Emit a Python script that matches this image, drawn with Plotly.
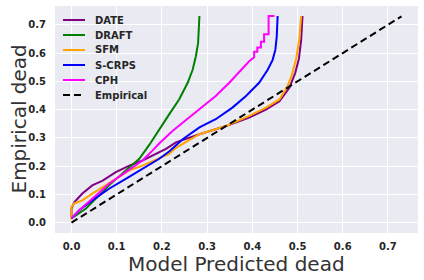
import plotly.graph_objects as go

# ---- data ----
date_x = [0.0, 0.0, 0.006, 0.024, 0.046, 0.069, 0.098, 0.128, 0.157, 0.209, 0.231, 0.283, 0.342, 0.393, 0.43, 0.46, 0.482, 0.495, 0.503, 0.508, 0.511]
date_y = [0.02, 0.05, 0.072, 0.103, 0.132, 0.149, 0.179, 0.202, 0.22, 0.261, 0.284, 0.313, 0.342, 0.372, 0.4, 0.43, 0.477, 0.53, 0.58, 0.645, 0.731]

draft_x = [0.0, 0.006, 0.032, 0.054, 0.083, 0.12, 0.15, 0.172, 0.194, 0.216, 0.238, 0.257, 0.268, 0.275, 0.28, 0.281, 0.283]
draft_y = [0.015, 0.021, 0.05, 0.085, 0.132, 0.185, 0.226, 0.275, 0.331, 0.383, 0.436, 0.495, 0.541, 0.588, 0.635, 0.68, 0.731]

sfm_x = [0.0, 0.0, 0.006, 0.024, 0.046, 0.069, 0.098, 0.128, 0.157, 0.194, 0.216, 0.231, 0.283, 0.342, 0.393, 0.43, 0.46, 0.478, 0.487, 0.497, 0.504, 0.508]
sfm_y = [0.01, 0.056, 0.068, 0.079, 0.103, 0.126, 0.155, 0.185, 0.202, 0.226, 0.243, 0.265, 0.313, 0.342, 0.378, 0.407, 0.436, 0.483, 0.52, 0.58, 0.65, 0.731]

scrps_x = [0.0, 0.017, 0.046, 0.083, 0.12, 0.157, 0.194, 0.216, 0.246, 0.283, 0.319, 0.356, 0.386, 0.415, 0.434, 0.445, 0.451, 0.454, 0.456]
scrps_y = [0.015, 0.044, 0.079, 0.12, 0.155, 0.19, 0.226, 0.252, 0.295, 0.337, 0.366, 0.407, 0.448, 0.495, 0.541, 0.576, 0.612, 0.658, 0.731]

cph_x = [0.0, 0.017, 0.046, 0.083, 0.12, 0.157, 0.179, 0.194, 0.224, 0.246, 0.283, 0.319, 0.349, 0.378, 0.393, 0.404, 0.404, 0.411, 0.411, 0.419, 0.419, 0.426, 0.426, 0.436, 0.436, 0.449]
cph_y = [0.015, 0.044, 0.085, 0.138, 0.179, 0.22, 0.255, 0.28, 0.325, 0.354, 0.401, 0.448, 0.495, 0.547, 0.571, 0.585, 0.605, 0.605, 0.62, 0.62, 0.64, 0.64, 0.667, 0.667, 0.731, 0.731]

emp_x = [0.0, 0.73]
emp_y = [0.0, 0.73]

tick_vals = [0.0, 0.1, 0.2, 0.3, 0.4, 0.5, 0.6, 0.7]
tick_text = ["0.0", "0.1", "0.2", "0.3", "0.4", "0.5", "0.6", "0.7"]

legend_names = ["DATE", "DRAFT", "SFM", "S-CRPS", "CPH", "Empirical"]
colors = ["purple", "green", "orange", "blue", "magenta", "black"]
series_x = [date_x, draft_x, sfm_x, scrps_x, cph_x, emp_x]
series_y = [date_y, draft_y, sfm_y, scrps_y, cph_y, emp_y]

# ---- figure ----
W, H = 424, 280
ML, MR, MT, MB = 55, 6, 6, 47
PW, PH = W - ML - MR, H - MT - MB
DASH = "7px,4px"

fig = go.Figure()
for name, xs, ys, col in zip(legend_names, series_x, series_y, colors):
    dash = DASH if name == "Empirical" else "solid"
    fig.add_trace(go.Scatter(x=xs, y=ys, mode="lines", name=name,
                             line=dict(color=col, width=2, dash=dash),
                             showlegend=False, hoverinfo="skip"))

# compact legend (matplotlib style), drawn in paper coordinates
shapes, annotations = [], []
for i, (name, col) in enumerate(zip(legend_names, colors)):
    py = 20 + 15 * i
    yp = (H - MB - py) / PH
    x0 = (63 - ML) / PW
    x1 = (85 - ML) / PW
    shapes.append(dict(type="line", xref="paper", yref="paper",
                       x0=x0, x1=x1, y0=yp, y1=yp,
                       line=dict(color=col, width=2,
                                 dash=DASH if name == "Empirical" else "solid")))
    annotations.append(dict(text=name, xref="paper", yref="paper",
                            x=(93 - ML) / PW, y=yp, xanchor="left", yanchor="middle",
                            showarrow=False,
                            font=dict(family="DejaVu Sans", size=10, color="#262626",
                                      weight="bold")))

title_font = dict(family="DejaVu Sans", size=20, color="#333333")
annotations += [
    dict(text="Model Predicted dead", xref="paper", yref="paper",
         x=0.501, y=0, yshift=-31, xanchor="center", yanchor="middle",
         showarrow=False, font=title_font),
    dict(text="Empirical dead", xref="paper", yref="paper",
         x=0, y=0.5, xshift=-37, textangle=-90, xanchor="center", yanchor="middle",
         showarrow=False, font=title_font),
]

tickfont = dict(family="DejaVu Sans", size=10, color="#262626", weight="bold")
axis_common = dict(
    range=[-0.0365, 0.7665], tickvals=tick_vals, ticktext=tick_text,
    showgrid=True, gridcolor="white", gridwidth=1, zeroline=False,
    showline=False, ticks="", tickfont=tickfont, automargin=False,
)

fig.update_layout(
    width=W, height=H,
    margin=dict(l=ML, r=MR, t=MT, b=MB, autoexpand=False),
    paper_bgcolor="white", plot_bgcolor="#EAEAF2",
    showlegend=False,
    hovermode=False,
    xaxis=dict(**axis_common, ticklabelstandoff=6),
    yaxis=dict(**axis_common, ticklabelstandoff=8),
    shapes=shapes,
    annotations=annotations,
)

fig.write_html("out.html",
               config={"displayModeBar": False, "staticPlot": True},
               post_script="document.body.style.margin='0';document.body.style.padding='0';")
